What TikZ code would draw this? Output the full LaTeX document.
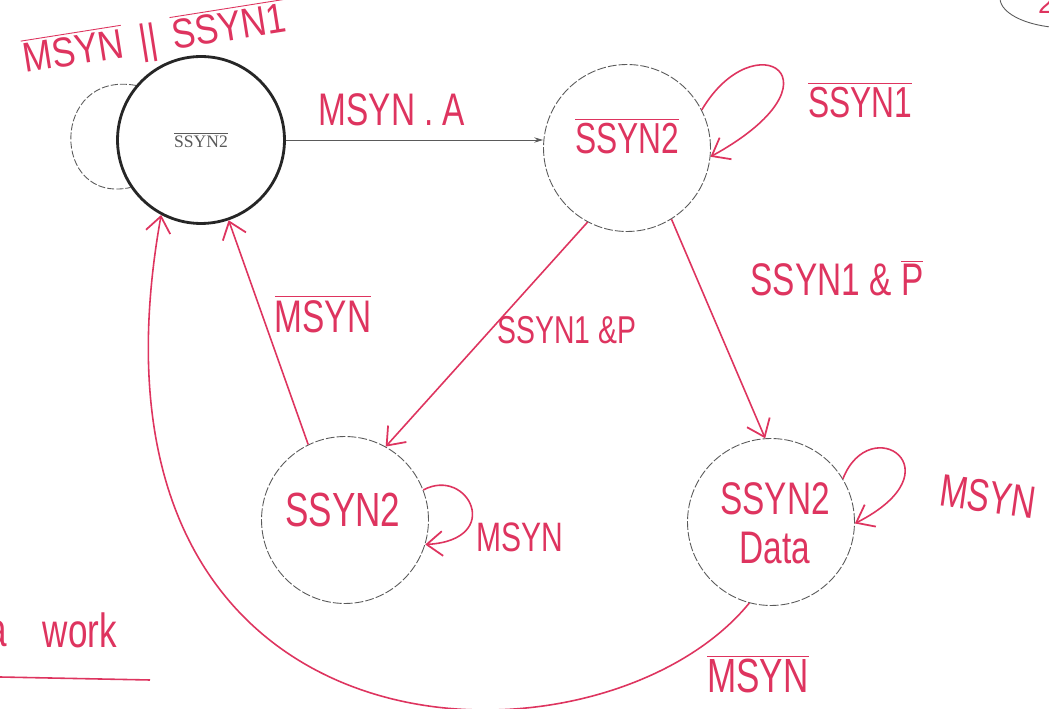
\documentclass[tikz,border=0pt]{standalone}
\usepackage{fontspec}
\usepackage{graphicx}
\setmainfont{Liberation Serif}
\newfontfamily\hand{Liberation Sans}
\usetikzlibrary{arrows.meta}
\definecolor{ink}{RGB}{222,52,95}
\definecolor{pen}{RGB}{90,90,90}
\newcommand\tall[1]{\scalebox{0.95}[1.3]{#1}}
\newcommand\ovl[1]{$\overline{\mbox{#1}}$}
\tikzset{
  state/.style={circle, draw=pen, line width=0.5pt, dash pattern=on 5pt off 1.2pt,
    minimum size=3.34cm, inner sep=0pt, text=ink, align=center},
  startstate/.style={circle, draw=black!85, line width=1.6pt, minimum size=3.34cm, inner sep=0pt},
  redarrow/.style={draw=ink, line width=0.9pt, -{Straight Barb[length=9pt,width=14pt,line width=1pt]}},
  grayline/.style={draw=pen, line width=0.5pt},
  lbl/.style={text=ink, inner sep=1pt, font=\hand\fontsize{20}{22}\selectfont},
}
\begin{document}
\begin{tikzpicture}[x=0.02cm,y=-0.02cm]
\useasboundingbox (0,0) rectangle (1049,709);
\fill[white] (0,0) rectangle (1049,709);
\clip (0,0) rectangle (1049,709);

% states
\node[startstate] (A) at (201,140) {\fontsize{10}{12}\selectfont\color{pen}\ovl{SSYN2}};
\node[state] (B) at (627,148) {};
\node[state] (C) at (345,520) {};
\node[state] (D) at (771,522) {};

% state texts
\node[lbl, font=\hand\fontsize{19}{22}\selectfont] (tB) at (627,136) {\tall{\ovl{SSYN2}}};
\node[lbl, font=\hand\fontsize{21}{22}\selectfont] (tC) at (343,510) {\tall{SSYN2}};
\node[lbl, font=\hand\fontsize{20}{22}\selectfont, align=center] (tD) at (775,523) {\tall{SSYN2}\\[6pt]\tall{Data}};

% start self loop (gray)
\draw[grayline, dash pattern=on 4pt off 1.2pt] (A.140) .. controls (50,70) and (50,205) .. (A.214);

% A -> B
\draw[grayline, -{Stealth[length=5pt,width=3pt]}] (A.east) -- (A.east -| B.west);
\node[lbl] (lAB) at (392,110) {\tall{MSYN . A}};

% B self loop
\draw[redarrow] (B.27) .. controls (755,20) and (850,80) .. (B.354);
\node[lbl, font=\hand\fontsize{19}{22}\selectfont] (lBB) at (860,100) {\tall{\ovl{SSYN1}}};

% B -> C, B -> D
\draw[redarrow] (B.242) -- (C.61);
\node[lbl, font=\hand\fontsize{17}{22}\selectfont] (lBC) at (567,330) {\tall{SSYN1 \&P}};
\draw[redarrow] (B.302) -- (D.94);
\node[lbl] (lBD) at (837,278) {\tall{SSYN1 \& \ovl{P}}};

% C -> A
\draw[redarrow] (C.116) -- (A.289);
\node[lbl] (lCA) at (323,314) {\tall{\ovl{MSYN}}};

% C self loop
\draw[redarrow] (C.21) .. controls (468,466) and (505,540) .. (C.343);
\node[lbl, font=\hand\fontsize{18}{22}\selectfont] (lCC) at (520,537) {\tall{MSYN}};

% D self loop
\draw[redarrow] (D.31) .. controls (870,410) and (960,470) .. (D.359);
\node[lbl] (lDD) at (988,497) {\rotatebox{-8}{\tall{MSYN}}};

% D -> A long curve
\draw[redarrow] (D.255) .. controls (600,786) and (60,780) .. (A.242);
\node[lbl, font=\hand\fontsize{21}{22}\selectfont] (lDA) at (758,674) {\tall{\ovl{MSYN}}};

% start loop label
\node[lbl, font=\hand\fontsize{19}{22}\selectfont] (lAA) at (155,40) {\rotatebox{9}{\scalebox{1.05}[1.25]{\ovl{MSYN} \,||\, \ovl{SSYN1}}}};

% bottom-left partial note
\node[lbl, font=\hand\fontsize{21}{22}\selectfont] (wk) at (80,630) {\tall{work}};
\node[lbl, font=\hand\fontsize{21}{22}\selectfont] (wa) at (-3,634) {\tall{a}};
\draw[ink, line width=0.9pt] (0,677) -- (150,680);

% top-right partial
\draw[grayline] (1068,-2) ellipse [x radius=68, y radius=30];
\node[lbl, font=\hand\fontsize{16}{18}\selectfont] (tr) at (1046,4) {2};
\end{tikzpicture}
\end{document}
